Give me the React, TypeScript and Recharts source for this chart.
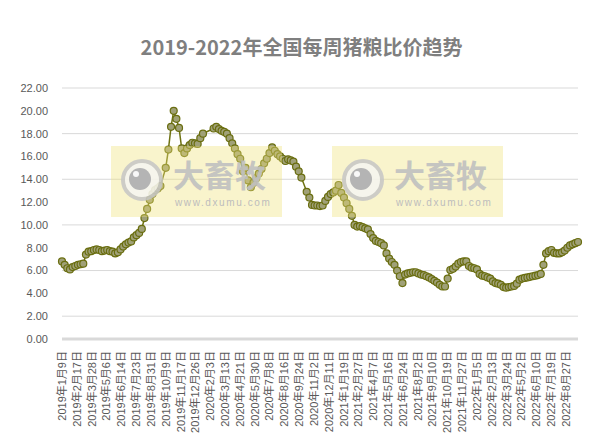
import React from "react";
import { LineChart, Line, XAxis, YAxis, CartesianGrid } from "recharts";

// weekly pig-grain price ratio, one value per Wednesday from startDate
const startDate = "2019-01-09";
const values2019 = [
  6.8, 6.5, 6.2, 6.1, 6.3, 6.4, 6.5, 6.55, 6.6, 7.4,
  7.65, 7.7, 7.8, 7.85, 7.8, 7.7, 7.75, 7.8, 7.7, 7.65,
  7.5, 7.6, 7.85, 8.1, 8.3, 8.45, 8.55, 8.9, 9.1, 9.3,
  9.65, 10.6, 11.4, 12.2, 12.7, 13.05, 13.2, 13.4, null, 15.0,
  16.6, 18.6, 20.0, 19.3, 18.5, 16.7, 16.3, 16.7, 17.0, 17.2,
  17.15,
];
const values2020 = [
  17.1, 17.6, 18.0, null, null, null, 18.45, 18.6, 18.4,
  18.25, 18.15, 18.0, 17.6, 17.15, 16.7, 16.2, 15.8, 14.7, 15.0,
  13.9, 13.3, 13.7, 14.1, 14.5, 14.9, 15.4, 15.8, 16.3, 16.8,
  16.5, 16.2, 16.0, 15.8, 15.6, 15.75, 15.65, 15.55, 15.1, 14.7,
  14.15, null, 12.9, 12.4, 11.75, 11.7, 11.7, 11.65, 11.7, 12.1,
  12.45, 12.7, 12.85, 13.0,
];
const values2021 = [
  13.5, 12.8, 12.4, 11.9, 11.4, 10.8,
  10.0, 9.85, 9.9, 9.8, 9.7, 9.6, 9.2, 8.85, 8.6, 8.5,
  8.4, 8.2, 7.5, 7.05, 6.75, 6.5, 6.0, 5.5, 4.9, 5.65,
  5.75, 5.8, 5.85, 5.85, 5.75, 5.65, 5.6, 5.5, 5.4, 5.25,
  5.1, 4.95, 4.75, 4.6, 4.6, 5.3, 6.05, 6.15, 6.35, 6.6,
  6.75, 6.8, 6.8, 6.4, 6.25, 6.2,
];
const values2022 = [
  6.1, 5.7, 5.55, 5.5,
  5.4, 5.3, 5.05, 4.9, 4.85, 4.75, 4.55, 4.5, 4.55, 4.6,
  4.65, 4.85, 5.2, 5.3, 5.35, 5.4, 5.45, 5.5, 5.55, 5.6,
  5.7, 6.5, 7.5, 7.7, 7.8, 7.55, 7.5, 7.5, 7.6, 7.75,
  8.0, 8.2, 8.3, 8.4, 8.5,
];

const tickDates = [
  "2019-01-09", "2019-02-17", "2019-03-28", "2019-05-06", "2019-06-14",
  "2019-07-23", "2019-08-31", "2019-10-09", "2019-11-17", "2019-12-26",
  "2020-02-03", "2020-03-13", "2020-04-21", "2020-05-30", "2020-07-08",
  "2020-08-16", "2020-09-24", "2020-11-02", "2020-12-11", "2021-01-19",
  "2021-02-27", "2021-04-07", "2021-05-16", "2021-06-24", "2021-08-02",
  "2021-09-10", "2021-10-19", "2021-11-27", "2022-01-05", "2022-02-13",
  "2022-03-24", "2022-05-02", "2022-06-10", "2022-07-19", "2022-08-27",
];
const yTicks = [0, 2, 4, 6, 8, 10, 12, 14, 16, 18, 20, 22];

const DAY = 86400000;
const toTs = (s: string) => {
  const [y, m, d] = s.split("-").map(Number);
  return Date.UTC(y, m - 1, d);
};
const fmtDate = (t: number) => {
  const d = new Date(t);
  return `${d.getUTCFullYear()}年${d.getUTCMonth() + 1}月${d.getUTCDate()}日`;
};

const allValues = [...values2019, ...values2020, ...values2021, ...values2022];
const t0 = toTs(startDate);
const data = allValues.map((v, i) => ({ t: t0 + i * 7 * DAY, value: v }));
const xTicks = tickDates.map(toTs);

const FONT = "'Liberation Sans', 'Noto Sans CJK SC', sans-serif";

function DateTick(props: any) {
  const { x, y, payload } = props;
  const ty = y + 4;
  return (
    <text
      x={x}
      y={ty}
      transform={`rotate(-90, ${x}, ${ty})`}
      textAnchor="end"
      dominantBaseline="central"
      fontSize={11}
      fill="#595959"
      fontFamily={FONT}
    >
      {fmtDate(payload.value)}
    </text>
  );
}

function Watermark({ x }: { x: number }) {
  const y = 146;
  return (
    <g>
      <rect x={x} y={y} width={171} height={71} fill="#f0e27a" opacity={0.38} />
      <circle cx={x + 31} cy={y + 34} r={19} fill="#f6f6f2" opacity={0.85} stroke="#c6c6c6" strokeWidth={4} />
      <circle cx={x + 29} cy={y + 33} r={11} fill="#b4b4b4" />
      <circle cx={x + 25} cy={y + 28} r={3} fill="#ffffff" opacity={0.9} />
      <text
        x={x + 62}
        y={y + 41}
        fontSize={31}
        fontWeight="bold"
        fill="#c0c0c0"
        opacity={0.9}
        fontFamily="'Noto Sans CJK SC', sans-serif"
      >
        大畜牧
      </text>
      <text
        x={x + 64}
        y={y + 60}
        fontSize={10}
        letterSpacing={1.6}
        fill="#bdbdbd"
        fontFamily={FONT}
      >
        www.dxumu.com
      </text>
    </g>
  );
}

export default function App() {
  return (
    <div style={{ position: "absolute", left: 0, top: 0, width: 603, height: 437, background: "#fff" }}>
      <div
        style={{
          position: "absolute",
          top: 34,
          left: 0,
          width: 603,
          textAlign: "center",
          fontSize: 20,
          lineHeight: "26px",
          fontWeight: "bold",
          color: "#7f7f7f",
          fontFamily: "'Noto Sans CJK SC', sans-serif",
        }}
      >
        2019-2022年全国每周猪粮比价趋势
      </div>
      <LineChart width={603} height={437} data={data} margin={{ top: 88, right: 25, bottom: 0, left: 0 }}>
        <CartesianGrid vertical={false} stroke="#d9d9d9" />
        <XAxis
          dataKey="t"
          type="number"
          domain={[data[0].t, data[data.length - 1].t]}
          ticks={xTicks}
          interval={0}
          tick={(p: any) => <DateTick {...p} />}
          tickLine={false}
          axisLine={{ stroke: "#d9d9d9", strokeWidth: 3 }}
          height={98}
        />
        <YAxis
          domain={[0, 22]}
          ticks={yTicks}
          tickFormatter={(v: number) => v.toFixed(2)}
          tick={{ fontSize: 11, fill: "#595959", fontFamily: FONT }}
          axisLine={false}
          tickLine={false}
          tickSize={6}
          tickMargin={8}
          width={62}
        />
        <Line
          type="linear"
          dataKey="value"
          stroke="#6e7212"
          strokeWidth={1.5}
          connectNulls
          dot={{ r: 3.5, fill: "#a0a178", stroke: "#6a6e10", strokeWidth: 1.2 }}
          isAnimationActive={false}
        />
      </LineChart>
      <svg width={603} height={437} style={{ position: "absolute", left: 0, top: 0, pointerEvents: "none" }}>
        <Watermark x={111} />
        <Watermark x={332} />
      </svg>
    </div>
  );
}
